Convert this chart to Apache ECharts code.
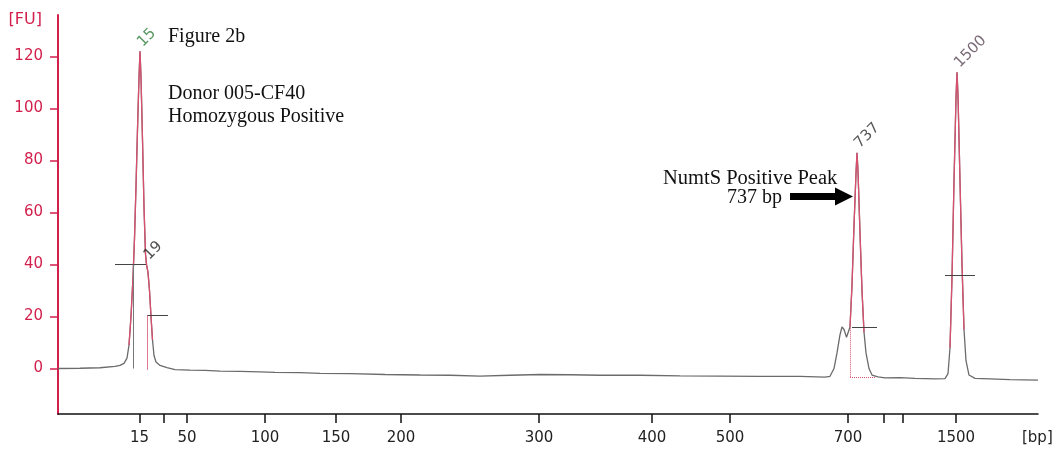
<!DOCTYPE html>
<html>
<head>
<meta charset="utf-8">
<script src="https://cdn.jsdelivr.net/npm/echarts@6/dist/echarts.min.js"></script>
<style>
  html, body { margin: 0; padding: 0; background: #fff; }
  #chart { width: 1059px; height: 453px; }
</style>
</head>
<body>
<div id="chart"></div>
<script>
// Ladder: fragment sizes (bp) and their migration times (s)
const ladderSizes = [15, 25, 50, 100, 150, 200, 300, 400, 500, 700, 850, 1000, 1500];
const ladderTimes = [28.15, 30.6, 32.9, 40.7, 47.8, 54.3, 68.1, 79.4, 87.2, 99.0, 102.6, 104.5, 109.8];
const ladderLabelled = [15, 50, 100, 150, 200, 300, 400, 500, 700, 1500];

// Electropherogram trace: migration time (s) and fluorescence (FU)
const traceTime = [
  20.0, 22.2, 24.2, 25.7, 26.2, 26.6, 26.9, 27.1, 27.3, 27.5, 27.65, 27.8, 27.95, 28.1, 28.2,
  28.3, 28.45, 28.6, 28.75, 28.85, 29.0, 29.15, 29.3, 29.45, 29.6, 29.8, 30.2, 30.9, 31.7,
  33.2, 34.7, 36.2, 38.2, 40.2, 41.7, 44.2, 46.2, 49.2, 52.7, 56.2, 59.2, 62.2, 65.2, 68.2,
  71.2, 74.2, 78.2, 82.2, 86.2, 90.2, 94.2, 96.7, 97.2, 97.6, 97.9, 98.2, 98.4, 98.6, 98.85,
  99.0, 99.2, 99.4, 99.6, 99.8, 99.9, 100.0, 100.2, 100.4, 100.6, 100.8, 101.1, 101.4, 102.0,
  102.7, 104.2, 105.7, 107.7, 108.7, 109.0, 109.2, 109.4, 109.6, 109.8, 109.9, 110.0, 110.2,
  110.4, 110.6, 110.8, 111.1, 111.7, 113.2, 115.2, 118.0
];
const traceFU = [
  0.0, 0.1, 0.3, 0.8, 1.2, 2.0, 4, 9, 20, 35, 50, 70, 92, 112, 122,
  112, 88, 62, 44, 40, 37, 30, 20, 11, 5, 2.5, 1.2, 0.3, -0.4,
  -0.6, -0.7, -1.0, -1.1, -1.3, -1.5, -1.6, -1.9, -2.0, -2.3, -2.5, -2.6, -2.9, -2.6, -2.3,
  -2.4, -2.6, -2.6, -2.8, -2.9, -3.0, -3.0, -3.3, -3.0, 0, 6, 13, 16, 15, 12,
  11.5, 16, 32, 55, 75, 83, 76, 52, 30, 14, 6, 0, -2.5, -3.2,
  -3.6, -3.5, -3.8, -4.0, -3.9, -2, 8, 35, 72, 104, 114, 105, 72,
  40, 15, 3, -2.5, -3.8, -4.0, -4.3, -4.5
];

// Called peaks: size label, time, height, label colour
const peakNames = ['15', '19', '737', '1500'];
const peakTimes = [28.2, 28.85, 99.9, 109.9];
const peakFU = [122, 40, 83, 114];
const peakColors = ['#2f7d3a', '#222222', '#2a2a2a', '#5a4656'];

// Peak boundary bars: start time, end time, FU level
const peakBarStart = [25.7, 28.9, 99.4, 108.7];
const peakBarEnd = [28.8, 31.0, 101.9, 111.7];
const peakBarFU = [40, 20.4, 16, 36];

const yTicks = [0, 20, 40, 60, 80, 100, 120];

const RED = '#d21f4c';
const TRACE_RED = '#d9506f';
const TRACE_GRAY = '#6b6b6b';
const PEAK_LEVEL = 16.5;

const sizeByTime = {};
ladderTimes.forEach((t, i) => { sizeByTime[t.toFixed(2)] = ladderSizes[i]; });
const labelTimes = ladderTimes.filter((t, i) => ladderLabelled.includes(ladderSizes[i]));

const traceData = traceTime.map((t, i) => [t, traceFU[i]]);
// peak portions of the trace (above PEAK_LEVEL, plus the neighbouring points)
const peakData = traceTime.map((t, i) => {
  const near = [i - 1, i, i + 1].some(j => j >= 0 && j < traceFU.length && traceFU[j] > PEAK_LEVEL);
  return near ? [t, traceFU[i]] : [t, '-'];
});

const seg = (x1, y1, x2, y2, style) => {
  const a = { coord: [x1, y1] };
  if (style) a.lineStyle = style;
  return [a, { coord: [x2, y2] }];
};

const barLines = peakBarStart.map((s, i) => seg(s, peakBarFU[i], peakBarEnd[i], peakBarFU[i]));
// vertical peak start markers and the dotted baseline box under the 737 bp peak
barLines.push(seg(27.55, 0, 27.55, 40, { color: '#777' }));
barLines.push(seg(28.9, -0.5, 28.9, 20.4, { color: '#e07a90' }));
barLines.push(seg(99.2, -3.4, 99.2, 16, { color: '#d9506f', type: 'dotted' }));
barLines.push(seg(99.2, -3.4, 101.7, -3.4, { color: '#d9506f', type: 'dotted' }));

const chart = echarts.init(document.getElementById('chart'), null, { renderer: 'canvas' });

chart.setOption({
  animation: false,
  backgroundColor: '#ffffff',
  grid: { left: 58, right: 21, top: 15, bottom: 39, outerBoundsMode: 'none' },
  xAxis: {
    type: 'value',
    min: 20,
    max: 118,
    name: '[bp]',
    nameLocation: 'end',
    nameGap: -16,
    nameTextStyle: {
      color: '#222', fontFamily: 'DejaVu Sans', fontSize: 15,
      align: 'left', verticalAlign: 'top', padding: [17, 0, 0, 0]
    },
    axisLine: { onZero: false, lineStyle: { color: '#111', width: 1.5 } },
    axisTick: { show: true, length: 9, lineStyle: { color: '#111', width: 1.5 }, customValues: ladderTimes },
    axisLabel: {
      color: '#222', fontFamily: 'DejaVu Sans', fontSize: 15, margin: 17,
      customValues: labelTimes,
      formatter: (v) => String(sizeByTime[v.toFixed(2)] ?? '')
    },
    splitLine: { show: false }
  },
  yAxis: {
    type: 'value',
    min: -17.5,
    max: 136,
    name: '[FU]',
    nameLocation: 'end',
    nameGap: -5,
    nameTextStyle: {
      color: RED, fontFamily: 'DejaVu Sans', fontSize: 16,
      align: 'right', verticalAlign: 'middle', padding: [0, 16, 0, 0]
    },
    axisLine: { show: true, lineStyle: { color: RED, width: 2 } },
    axisTick: { show: true, length: 8, lineStyle: { color: RED, width: 1.5 }, customValues: yTicks },
    axisLabel: {
      color: RED, fontFamily: 'DejaVu Sans', fontSize: 15, margin: 15,
      customValues: yTicks
    },
    splitLine: { show: false }
  },
  graphic: [
    { type: 'text', left: 168, top: 27,
      style: { text: 'Figure 2b', font: '20px "Liberation Serif"', fill: '#111' } },
    { type: 'text', left: 168, top: 82,
      style: { text: 'Donor 005-CF40\nHomozygous Positive', font: '20px "Liberation Serif"',
               lineHeight: 23, fill: '#111' } },
    { type: 'text', left: 663, top: 168,
      style: { text: 'NumtS Positive Peak', font: '20.5px "Liberation Serif"', fill: '#111' } },
    { type: 'text', left: 727, top: 188,
      style: { text: '737 bp', font: '20px "Liberation Serif"', fill: '#111' } }
  ],
  series: [
    {
      name: 'trace',
      type: 'line',
      data: traceData,
      symbol: 'none',
      lineStyle: { width: 1.3, color: TRACE_GRAY },
      z: 3
    },
    {
      name: 'peak trace',
      type: 'line',
      data: peakData,
      symbol: 'none',
      connectNulls: false,
      lineStyle: { width: 1.3, color: TRACE_RED },
      z: 4
    },
    {
      name: 'peaks',
      type: 'scatter',
      symbolSize: 2,
      itemStyle: { color: 'rgba(0,0,0,0)' },
      data: peakTimes.map((t, i) => ({
        value: [t, peakFU[i]],
        label: { color: peakColors[i] }
      })),
      label: {
        show: true,
        position: 'top',
        distance: 6,
        rotate: 45,
        align: 'left',
        verticalAlign: 'middle',
        fontFamily: 'DejaVu Sans',
        fontSize: 15,
        formatter: (p) => peakNames[p.dataIndex]
      },
      z: 5
    },
    {
      name: 'markers',
      type: 'line',
      data: [[20, '-']],
      symbol: 'none',
      markLine: {
        silent: true,
        symbol: 'none',
        label: { show: false },
        lineStyle: { color: '#444', width: 1, type: 'solid' },
        data: barLines
      },
      z: 2
    },
    {
      name: 'arrow',
      type: 'line',
      data: [[20, '-']],
      symbol: 'none',
      markLine: {
        silent: true,
        symbol: ['none', 'triangle'],
        symbolSize: 18,
        label: { show: false },
        lineStyle: { color: '#000', width: 7, type: 'solid' },
        data: [seg(93.2, 66.2, 98.6, 66.2)]
      },
      z: 6
    }
  ]
});
</script>
</body>
</html>
